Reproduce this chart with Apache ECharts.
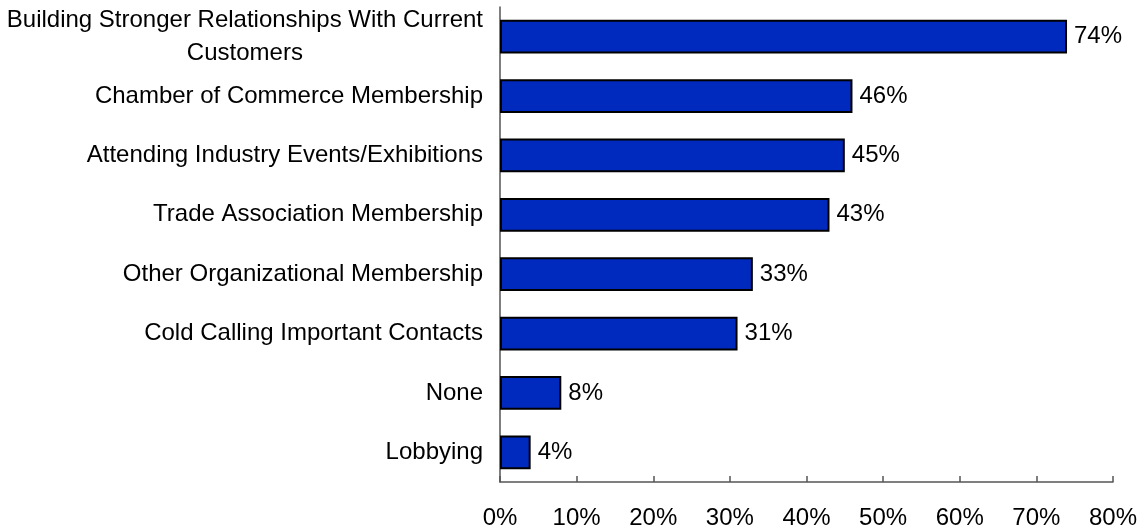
<!DOCTYPE html>
<html>
<head>
<meta charset="utf-8">
<script src="https://cdn.jsdelivr.net/npm/echarts@6/dist/echarts.min.js"></script>
<style>
  html, body { margin: 0; padding: 0; background: #fff; }
  #chart { width: 1145px; height: 525px; }
</style>
</head>
<body>
<div id="chart"></div>
<script>
// Survey answers, listed bottom to top as the category axis draws them
const categories = [
  'Lobbying',
  'None',
  'Cold Calling Important Contacts',
  'Other Organizational Membership',
  'Trade Association Membership',
  'Attending Industry Events/Exhibitions',
  'Chamber of Commerce Membership',
  'Building Stronger Relationships With Current\nCustomers'
];
const shares = [4, 8, 31, 33, 43, 45, 46, 74];
const tickValues = [0, 10, 20, 30, 40, 50, 60, 70, 80];

const FONT = '"Liberation Sans", Arial, sans-serif';
const SIZE = 24;
const chart = echarts.init(document.getElementById('chart'), null, { renderer: 'canvas' });

chart.setOption({
  animation: false,
  backgroundColor: '#ffffff',
  grid: { left: 500, right: 32, top: 7, bottom: 43, containLabel: false, outerBoundsMode: 'none' },
  xAxis: {
    type: 'value',
    min: tickValues[0],
    max: tickValues[tickValues.length - 1],
    interval: 10,
    axisLine: { show: true, lineStyle: { color: '#555555', width: 1.5 } },
    axisTick: { show: true, inside: true, length: 6, lineStyle: { color: '#555555', width: 1.5 } },
    splitLine: { show: false },
    axisLabel: {
      color: '#000', fontFamily: FONT, fontSize: SIZE, margin: 24,
      formatter: v => v + '%'
    }
  },
  yAxis: {
    type: 'category',
    data: categories,
    axisLine: { show: true, lineStyle: { color: '#555555', width: 1.5 } },
    axisTick: { show: false },
    axisLabel: {
      color: '#000', fontFamily: FONT, fontSize: SIZE, margin: 17,
      lineHeight: 33,
      formatter: v => v.split('\n').map(s => '{c|' + s + '}').join('\n'),
      rich: { c: { align: 'center', fontFamily: FONT, fontSize: SIZE, lineHeight: 33, color: '#000' } }
    }
  },
  series: [{
    type: 'bar',
    data: shares,
    barCategoryGap: '43%',
    itemStyle: { color: '#0029BD', borderColor: '#000', borderWidth: 2 },
    label: {
      show: true, position: 'right', distance: 7,
      color: '#000', fontFamily: FONT, fontSize: SIZE,
      formatter: p => p.value + '%'
    }
  }]
});
</script>
</body>
</html>
